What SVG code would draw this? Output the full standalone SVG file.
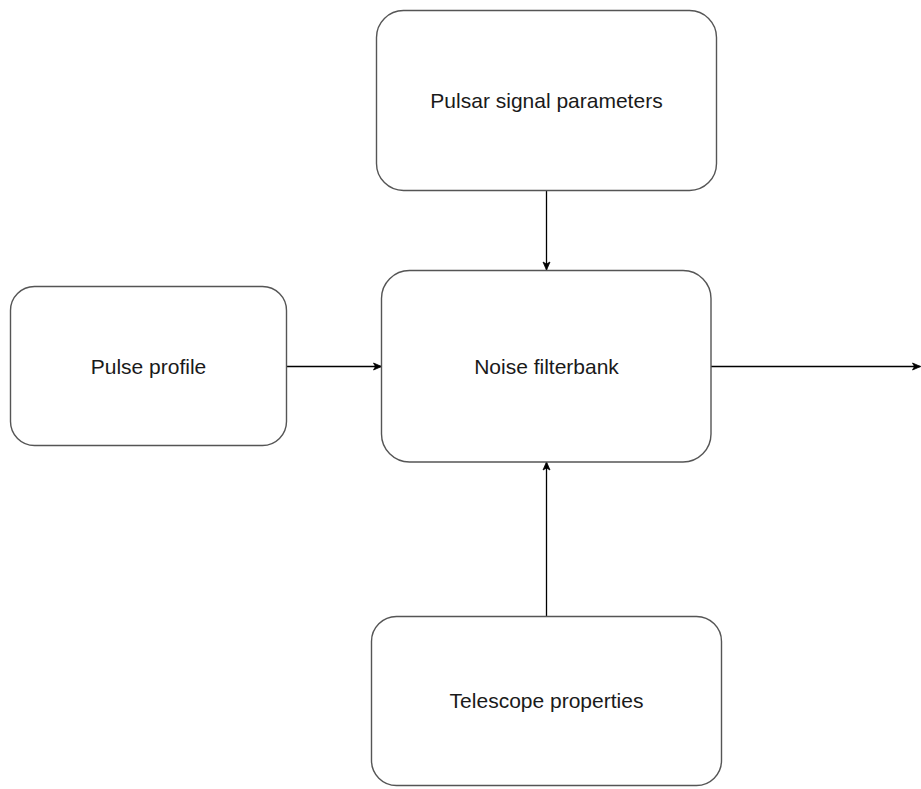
<svg xmlns="http://www.w3.org/2000/svg" width="921" height="789" viewBox="0 0 921 789">
<defs>
<marker id="arr" markerWidth="10" markerHeight="10" viewBox="0 0 10 10" refX="9" refY="5" orient="auto" markerUnits="userSpaceOnUse">
<path d="M1,1.5 L9,5 L1,8.5 L3,5 Z" fill="#000" stroke="#000" stroke-width="0.8"/>
</marker>
</defs>
<style>
.box{fill:#fff;stroke:#555;stroke-width:1.4}
.lbl{font-family:"Liberation Sans",Arial,sans-serif;font-size:21px;fill:#1a1a1a;text-anchor:middle}
.edge{fill:none;stroke:#000;stroke-width:1.3;marker-end:url(#arr)}
</style>
<rect width="921" height="789" fill="#fff"/>
<g id="connectors">
<path class="edge" d="M546.5,190.5 L546.5,270"/>
<path class="edge" d="M286.5,366.5 L381.5,366.5"/>
<path class="edge" d="M711,366.5 L920.5,366.5"/>
<path class="edge" d="M546.5,616 L546.5,462"/>
</g>
<g id="pulsar">
<rect class="box" x="376.5" y="10.5" width="340" height="180" rx="27" ry="27"/>
<text class="lbl" x="546.5" y="108">Pulsar signal parameters</text>
</g>
<g id="pulse">
<rect class="box" x="10.5" y="286.5" width="276" height="159" rx="24" ry="24"/>
<text class="lbl" x="148.5" y="374">Pulse profile</text>
</g>
<g id="noise">
<rect class="box" x="381.5" y="270.5" width="329.5" height="191.5" rx="28" ry="28"/>
<text class="lbl" x="546.5" y="374">Noise filterbank</text>
</g>
<g id="telescope">
<rect class="box" x="371.5" y="616.5" width="350" height="169" rx="25" ry="25"/>
<text class="lbl" x="546.5" y="708">Telescope properties</text>
</g>
</svg>
